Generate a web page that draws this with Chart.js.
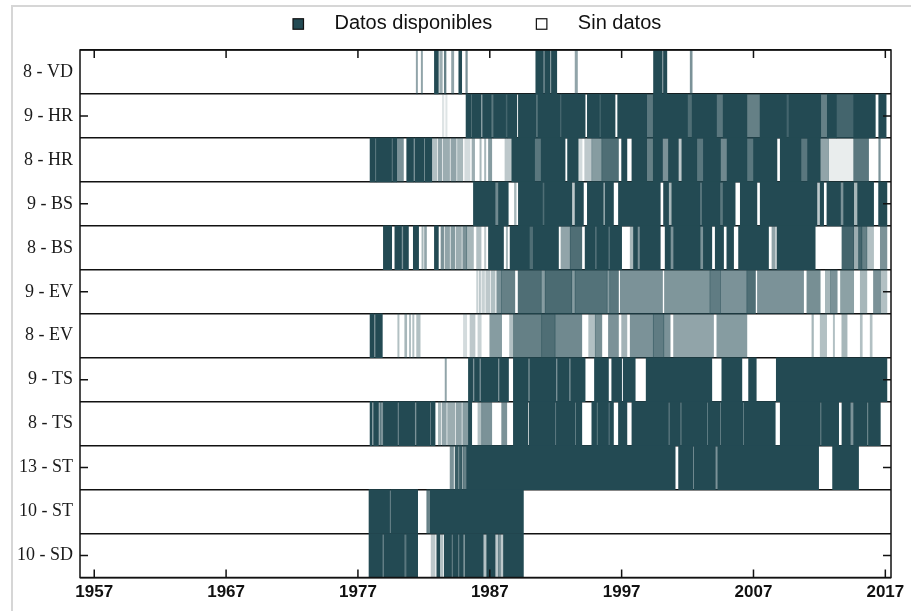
<!DOCTYPE html>
<html lang="es">
<head>
<meta charset="utf-8">
<title>Disponibilidad de datos</title>
<script src="https://cdn.jsdelivr.net/npm/chart.js@4.4.1/dist/chart.umd.min.js"></script>
<style>
  html, body { margin: 0; padding: 0; background: #fff; overflow: hidden; }
  #wrap { position: relative; width: 911px; height: 611px; }
  #frame {
    position: absolute; left: 11px; top: 5px; right: 0; bottom: 0;
    border-top: 2px solid #d6d6d6; border-left: 2px solid #d6d6d6;
    pointer-events: none;
  }
</style>
</head>
<body>
<div id="wrap">
  <canvas id="availChart"></canvas>
  <div id="frame"></div>
</div>
<script>
// Rows from top to bottom
const rowLabels = ['8 - VD', '9 - HR', '8 - HR', '9 - BS', '8 - BS', '9 - EV',
                   '8 - EV', '9 - TS', '8 - TS', '13 - ST', '10 - ST', '10 - SD'];

const tickYears = [1957, 1967, 1977, 1987, 1997, 2007, 2017];

// Each period: [start year, end year, share of data available]
const vd8 = [
    [1981.42, 1981.52, .5], [1981.80, 1981.90, .5], [1982.80, 1983.10, 1], [1983.20, 1983.40, .45],
    [1983.55, 1983.68, .7], [1984.10, 1984.27, .5], [1984.65, 1984.87, 1], [1985.18, 1985.30, .6],
    [1990.49, 1991.05, 1], [1991.05, 1991.18, .5], [1991.18, 1991.55, 1], [1991.55, 1991.68, .5],
    [1991.68, 1992.08, 1], [1993.47, 1993.65, .5],
    [1999.42, 2000.05, 1], [2000.05, 2000.18, .5], [2000.18, 2000.43, 1], [2002.20, 2002.35, .6]
];

const hr9 = [
    [1983.40, 1983.52, .15], [1983.66, 1983.76, .15],
    [1985.20, 1985.55, 1], [1985.55, 1985.65, .7], [1985.65, 1986.35, 1], [1986.45, 1987.10, 1],
    [1987.10, 1987.30, .75], [1987.30, 1988.20, 1], [1988.20, 1988.35, .85], [1988.35, 1989.05, 1],
    [1989.17, 1990.50, 1], [1990.50, 1990.65, .7], [1990.65, 1992.30, 1], [1992.30, 1992.45, .85],
    [1992.45, 1994.23, 1], [1994.40, 1995.30, 1], [1995.30, 1995.45, .85], [1995.45, 1996.50, 1],
    [1996.70, 1998.90, 1], [1998.90, 1999.40, .75],
    [1999.40, 2002.00, 1], [2002.00, 2002.35, .8], [2002.35, 2004.20, 1], [2004.20, 2004.70, .75],
    [2004.70, 2006.50, 1], [2006.50, 2007.50, .7], [2007.50, 2009.50, 1], [2009.50, 2009.70, .85],
    [2009.70, 2012.10, 1], [2012.10, 2012.60, .7],
    [2012.60, 2013.30, 1], [2013.30, 2014.60, .85], [2014.60, 2016.24, 1], [2016.50, 2017.06, 1]
];

const hr8 = [
    [1977.92, 1978.30, 1], [1978.30, 1978.40, .6], [1978.40, 1979.55, 1], [1979.55, 1979.65, .6],
    [1979.65, 1979.94, 1], [1979.94, 1980.45, .6], [1980.70, 1981.20, 1], [1981.20, 1981.35, .6],
    [1981.35, 1982.00, 1], [1982.00, 1982.10, .5], [1982.10, 1982.60, 1],
    [1982.65, 1983.00, .35], [1983.10, 1983.35, .5], [1983.45, 1983.95, .45], [1984.05, 1984.45, .5],
    [1984.55, 1984.95, .4], [1985.10, 1985.50, .2], [1985.65, 1985.85, .45], [1986.25, 1986.35, .4],
    [1986.60, 1986.70, .4], [1986.90, 1987.15, .55], [1988.15, 1988.65, .3],
    [1988.67, 1990.40, 1], [1990.40, 1990.90, .75], [1990.90, 1992.71, 1], [1992.90, 1993.70, 1],
    [1993.70, 1994.00, .2], [1994.20, 1994.74, .3], [1994.74, 1995.50, .55], [1995.50, 1996.76, .8],
    [1997.00, 1997.40, 1], [1997.78, 1998.90, 1], [1998.90, 1999.40, .7], [1999.40, 2000.10, 1],
    [2000.10, 2000.55, .6], [2000.55, 2001.30, 1], [2001.30, 2001.57, .3], [2001.57, 2002.70, 1],
    [2002.70, 2003.20, .75], [2003.20, 2004.50, 1], [2004.50, 2005.00, .65], [2005.00, 2006.50, 1],
    [2006.50, 2007.00, .75], [2007.00, 2008.78, 1], [2009.03, 2010.60, 1], [2010.60, 2011.10, .75],
    [2011.10, 2012.06, 1], [2012.06, 2012.70, .5], [2012.70, 2014.60, .1], [2014.60, 2015.73, .75],
    [2016.50, 2016.62, .6]
];

const bs9 = [
    [1985.76, 1987.40, 1], [1987.40, 1987.66, .65], [1987.66, 1988.40, 1], [1988.87, 1989.00, .4],
    [1989.17, 1991.00, 1], [1991.00, 1991.15, .8], [1991.15, 1993.22, 1], [1993.22, 1993.47, .3],
    [1993.47, 1994.10, 1], [1994.40, 1995.60, 1], [1995.60, 1995.75, .4], [1995.75, 1996.38, 1],
    [1996.76, 1999.93, 1], [2000.18, 2000.56, 1], [2000.56, 2000.81, .4], [2000.81, 2002.96, 1],
    [2002.96, 2003.08, .5], [2003.08, 2004.45, 1], [2004.45, 2004.70, .75], [2004.70, 2005.61, 1],
    [2006.00, 2007.26, 1], [2007.51, 2011.81, 1], [2011.81, 2012.06, .3], [2012.06, 2012.32, 1],
    [2012.57, 2013.60, 1], [2013.60, 2013.84, .6], [2013.84, 2014.60, 1], [2014.60, 2014.90, .4],
    [2014.90, 2016.11, 1], [2016.49, 2017.12, 1]
];

const bs8 = [
    [1978.93, 1979.56, 1], [1979.80, 1980.30, 1], [1980.30, 1980.45, .6], [1980.45, 1980.83, 1],
    [1981.20, 1981.60, 1], [1981.85, 1981.95, .4], [1982.05, 1982.20, .5], [1982.80, 1983.10, 1],
    [1983.30, 1983.50, .6], [1983.60, 1983.95, .5], [1984.05, 1984.35, .55], [1984.45, 1984.85, .45],
    [1984.95, 1985.25, .6], [1985.25, 1985.76, .4], [1986.00, 1986.34, .35], [1986.60, 1986.70, .3],
    [1986.90, 1988.04, 1], [1988.25, 1988.35, .4], [1988.54, 1990.00, 1], [1990.00, 1990.30, .8],
    [1990.30, 1992.21, 1], [1992.40, 1993.10, .5], [1993.10, 1993.98, .8], [1994.23, 1995.00, 1],
    [1995.00, 1995.10, .5], [1995.10, 1996.00, 1], [1996.00, 1996.10, .5], [1996.10, 1997.00, 1],
    [1997.65, 1997.90, .4], [1997.90, 1998.20, 1], [1998.20, 1998.40, .6], [1998.40, 1999.93, 1],
    [2000.30, 2000.70, 1], [2000.70, 2000.95, .6], [2000.95, 2002.95, 1], [2002.95, 2003.20, .6],
    [2003.20, 2003.84, 1], [2004.10, 2004.73, 1], [2004.98, 2005.49, 1], [2005.87, 2008.14, 1],
    [2008.40, 2008.65, .5], [2008.78, 2011.68, 1], [2013.71, 2014.60, .85], [2014.60, 2014.97, .45],
    [2014.97, 2015.22, .85], [2015.22, 2015.60, .7], [2015.60, 2016.11, .35], [2016.62, 2017.12, .6]
];

const ev9 = [
    [1986.00, 1986.10, .25], [1986.20, 1986.30, .3], [1986.40, 1986.60, .25], [1986.70, 1987.00, .3],
    [1987.10, 1987.40, .35], [1987.53, 1987.90, .6], [1987.90, 1988.90, .7], [1989.15, 1990.90, .8],
    [1990.90, 1991.20, .55], [1991.20, 1993.22, .82], [1993.22, 1993.47, .55], [1993.47, 1995.90, .78],
    [1995.90, 1996.10, .55], [1996.10, 1996.76, .75], [1996.90, 2000.10, .6], [2000.25, 2003.70, .58],
    [2003.70, 2004.50, .72], [2004.50, 2006.50, .6], [2006.50, 2007.15, .8], [2007.30, 2010.80, .6],
    [2011.05, 2012.06, .62], [2012.45, 2012.85, .4], [2012.85, 2013.35, .6], [2013.60, 2014.60, .52],
    [2015.10, 2015.60, .4], [2016.10, 2016.62, .6], [2016.62, 2017.12, .35]
];

const ev8 = [
    [1977.92, 1978.20, 1], [1978.20, 1978.35, .6], [1978.35, 1978.85, 1], [1980.02, 1980.12, .35],
    [1980.55, 1980.70, .4], [1980.90, 1981.00, .35], [1981.15, 1981.25, .35], [1981.45, 1981.72, .35],
    [1985.00, 1985.25, .2], [1985.50, 1985.88, .3], [1986.10, 1986.35, .25], [1987.00, 1987.90, .55],
    [1988.50, 1988.75, .35], [1988.79, 1990.94, .7], [1990.94, 1991.95, .8], [1991.95, 1993.98, .65],
    [1994.50, 1995.00, .35], [1995.00, 1995.50, .62], [1996.00, 1996.76, .6], [1997.00, 1997.40, .42],
    [1997.65, 1999.40, .6], [1999.40, 2000.20, .72], [2000.20, 2000.68, .6], [2000.94, 2003.97, .5],
    [2004.22, 2006.50, .55], [2011.43, 2011.55, .4], [2012.06, 2012.55, .35], [2013.05, 2013.15, .35],
    [2013.70, 2014.10, .4], [2015.10, 2015.25, .35], [2015.85, 2016.00, .35]
];

const ts9 = [
    [1983.61, 1983.71, .5], [1985.38, 1985.70, 1], [1985.70, 1985.85, .6], [1985.85, 1986.20, 1],
    [1986.20, 1986.35, .6], [1986.35, 1987.60, 1], [1987.60, 1987.75, .6], [1987.75, 1988.42, 1],
    [1988.79, 1989.90, 1], [1989.90, 1990.05, .6], [1990.05, 1992.00, 1], [1992.00, 1992.15, .6],
    [1992.15, 1993.00, 1], [1993.00, 1993.15, .6], [1993.15, 1994.23, 1], [1994.94, 1996.00, 1],
    [1996.25, 1997.00, 1], [1997.12, 1998.03, 1], [1998.86, 2003.84, 1], [2004.60, 2006.12, 1],
    [2006.63, 2007.21, 1], [2008.73, 2017.12, 1]
];

const ts8 = [
    [1977.92, 1978.05, 1], [1978.05, 1978.20, .5], [1978.20, 1978.55, 1], [1978.55, 1978.70, .5],
    [1978.70, 1978.93, .6], [1978.93, 1980.00, 1], [1980.00, 1980.12, .6], [1980.12, 1981.30, 1],
    [1981.30, 1981.45, .6], [1981.45, 1982.45, 1], [1982.45, 1982.55, .6], [1982.55, 1982.85, 1],
    [1983.10, 1983.30, .4], [1983.40, 1983.70, .5], [1983.80, 1984.35, .45], [1984.45, 1984.85, .5],
    [1984.95, 1985.38, .55], [1985.38, 1985.63, 1], [1986.10, 1986.39, .35], [1986.39, 1987.15, .6],
    [1987.90, 1988.29, .6], [1988.79, 1989.88, 1], [1989.98, 1991.95, 1], [1991.95, 1992.05, .6],
    [1992.05, 1993.45, 1], [1993.45, 1993.55, .6], [1993.55, 1993.98, 1], [1994.74, 1995.10, 1],
    [1995.10, 1995.20, .6], [1995.20, 1996.00, 1], [1996.00, 1996.10, .6], [1996.10, 1996.38, 1],
    [1996.76, 1997.40, 1], [1997.78, 2000.55, 1], [2000.55, 2000.65, .5], [2000.65, 2001.45, 1],
    [2001.45, 2001.55, .5], [2001.55, 2003.45, 1], [2003.45, 2003.55, .6], [2003.55, 2004.45, 1],
    [2004.45, 2004.55, .6], [2004.55, 2006.20, 1], [2006.20, 2006.30, .6], [2006.30, 2008.65, 1],
    [2009.03, 2012.06, 1], [2012.06, 2012.16, .5], [2012.16, 2013.46, 1], [2013.71, 2014.34, 1],
    [2014.34, 2014.60, .6], [2014.60, 2015.60, 1], [2015.60, 2015.72, .6], [2015.72, 2016.62, 1]
];

const st13 = [
    [1983.99, 1984.25, .6], [1984.37, 1984.60, .9], [1984.60, 1984.70, .4], [1984.70, 1984.88, .9],
    [1984.88, 1985.00, .4], [1985.00, 1985.25, .7], [1985.25, 2001.06, 1], [2001.32, 2002.40, 1],
    [2002.40, 2002.50, .5], [2002.50, 2004.10, 1], [2004.10, 2004.30, .6], [2004.30, 2011.94, 1],
    [2013.00, 2014.97, 1]
];

const st10 = [
    [1977.84, 1979.40, 1], [1979.40, 1979.50, .5], [1979.50, 1981.53, 1],
    [1982.22, 1982.35, .7], [1982.35, 1982.45, .3], [1982.45, 1989.55, 1]
];

const sd10 = [
    [1977.84, 1978.85, 1], [1978.85, 1978.98, .6], [1978.98, 1980.50, 1], [1980.50, 1980.70, .75],
    [1980.70, 1981.53, 1], [1982.55, 1982.85, .3], [1982.98, 1983.20, 1], [1983.20, 1983.45, .35],
    [1983.55, 1984.10, 1], [1984.10, 1984.20, .5], [1984.20, 1984.60, 1], [1984.60, 1984.70, .5],
    [1984.70, 1985.00, 1], [1985.10, 1986.50, 1], [1986.52, 1986.77, .35], [1986.77, 1987.40, 1],
    [1987.40, 1987.65, .3], [1987.65, 1987.80, .6], [1987.80, 1988.04, .3], [1988.04, 1989.55, 1]
];

const rowPeriods = [vd8, hr9, hr8, bs9, bs8, ev9, ev8, ts9, ts8, st13, st10, sd10];

const TEAL = [35, 74, 83];

// Legend drawn above the plot, like the gnuplot key
const keyPlugin = {
    id: 'topKey',
    afterDraw(chart) {
        const { ctx } = chart;
        const items = [
            { text: 'Datos disponibles', fill: `rgb(${TEAL.join(',')})` },
            { text: 'Sin datos', fill: '#fff' }
        ];
        const box = 10.5;
        ctx.save();
        ctx.font = '20px "Liberation Sans", Arial, sans-serif';
        ctx.textBaseline = 'middle';
        let x = 293;
        const y = 24;
        items.forEach(item => {
            ctx.fillStyle = item.fill;
            ctx.fillRect(x, y - box / 2, box, box);
            ctx.strokeStyle = '#111';
            ctx.lineWidth = 1.2;
            ctx.strokeRect(x, y - box / 2, box, box);
            ctx.fillStyle = '#111';
            ctx.fillText(item.text, x + box + 31, y - 0.5);
            x += box + 31 + ctx.measureText(item.text).width + 44;
        });
        ctx.restore();
    }
};

// Frame and inward tick marks (gnuplot style)
const frameTicksPlugin = {
    id: 'frameTicks',
    afterDraw(chart) {
        const { ctx, chartArea: a, scales } = chart;
        const len = 8;
        ctx.save();
        ctx.strokeStyle = '#111';
        ctx.lineWidth = 1.5;
        ctx.strokeRect(a.left, a.top, a.right - a.left, a.bottom - a.top);
        ctx.beginPath();
        scales.x.ticks.forEach(t => {
            const px = scales.x.getPixelForValue(t.value);
            ctx.moveTo(px, a.bottom); ctx.lineTo(px, a.bottom - len);
            ctx.moveTo(px, a.top); ctx.lineTo(px, a.top + len);
        });
        rowLabels.forEach((label, i) => {
            if (i % 2 === 0) return;
            const py = scales.y.getPixelForValue(i);
            ctx.moveTo(a.left, py); ctx.lineTo(a.left + len, py);
            ctx.moveTo(a.right, py); ctx.lineTo(a.right - len, py);
        });
        ctx.stroke();
        ctx.restore();
    }
};

function initAvailabilityChart() {
    const canvas = document.getElementById('availChart');

    const bars = [];
    rowPeriods.forEach((periods, i) => {
        periods.forEach(([start, end, share]) => {
            bars.push({ y: rowLabels[i], x: [start, end], share: share });
        });
    });

    return new Chart(canvas, {
        type: 'bar',
        data: {
            labels: rowLabels,
            datasets: [{
                label: 'Datos disponibles',
                data: bars,
                backgroundColor: (c) => `rgba(${TEAL.join(',')},${c.raw ? c.raw.share : 1})`,
                borderWidth: 0,
                borderSkipped: false,
                categoryPercentage: 1,
                barPercentage: 1
            }]
        },
        options: {
            indexAxis: 'y',
            responsive: true,
            maintainAspectRatio: false,
            animation: false,
            events: [],
            layout: {
                padding: { top: 50, right: 20, bottom: 0, left: 0 }
            },
            plugins: {
                legend: { display: false },
                tooltip: { enabled: false }
            },
            scales: {
                x: {
                    type: 'linear',
                    min: 1955.92,
                    max: 2017.43,
                    afterBuildTicks: (scale) => {
                        scale.ticks = tickYears.map(v => ({ value: v }));
                    },
                    afterFit: (scale) => { scale.height = 33.5; },
                    grid: { display: false, drawTicks: false },
                    border: { display: false },
                    ticks: {
                        autoSkip: false,
                        maxRotation: 0,
                        padding: 5,
                        color: '#111',
                        font: { family: '"Liberation Sans", Arial, sans-serif', size: 17, weight: 'bold' },
                        callback: (v) => String(v)
                    }
                },
                y: {
                    type: 'category',
                    offset: true,
                    z: 1,
                    afterFit: (scale) => { scale.width = 80; },
                    grid: {
                        offset: true,
                        drawTicks: false,
                        color: '#111',
                        lineWidth: 1.5
                    },
                    border: { display: false },
                    ticks: {
                        padding: 7,
                        color: '#1a1a1a',
                        font: { family: '"Liberation Serif", "Times New Roman", serif', size: 18 }
                    }
                }
            }
        },
        plugins: [keyPlugin, frameTicksPlugin]
    });
}

initAvailabilityChart();
</script>
</body>
</html>
